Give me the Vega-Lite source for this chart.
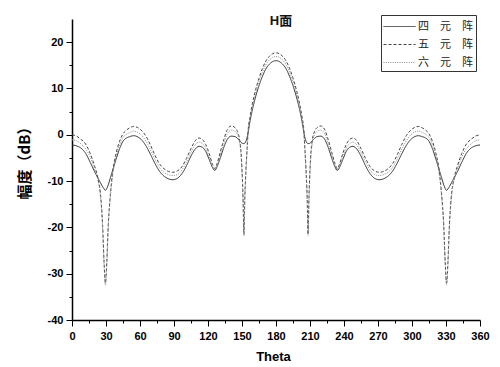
{
  "$schema": "https://vega.github.io/schema/vega-lite/v6.json",
  "autosize": {"type": "none"},
  "padding": {"left": 72, "top": 19, "right": 20, "bottom": 47},
  "width": 408,
  "height": 301,
  "background": "white",
  "title": {"text": "H面", "font": "Liberation Sans, Noto Sans CJK SC", "fontSize": 13, "fontWeight": "bold", "color": "#111", "anchor": "middle", "frame": "group", "baseline": "top", "offset": -13, "dx": 5},
  "data": {"values": [
    {"t": 0, "四元阵": -2.2, "五元阵": 0.0, "六元阵": -1.1},
    {"t": 4, "四元阵": -2.4, "五元阵": -0.3, "六元阵": -1.3},
    {"t": 8, "四元阵": -2.9, "五元阵": -1.0, "六元阵": -2.0},
    {"t": 12, "四元阵": -4.0, "五元阵": -2.0, "六元阵": -3.0},
    {"t": 16, "四元阵": -5.9, "五元阵": -4.0, "六元阵": -4.8},
    {"t": 20, "四元阵": -8.0, "五元阵": -6.8, "六元阵": -7.5},
    {"t": 23, "四元阵": -9.4, "五元阵": -9.5, "六元阵": -10},
    {"t": 25, "四元阵": -10.3, "五元阵": -12.5, "六元阵": -13},
    {"t": 27, "四元阵": -11.2, "五元阵": -19.5, "六元阵": -20},
    {"t": 28.3, "四元阵": -11.7, "五元阵": -27.5, "六元阵": -28},
    {"t": 29.5, "四元阵": -12.0, "五元阵": -32, "六元阵": -32.5},
    {"t": 30.7, "四元阵": -11.6, "五元阵": -27.5, "六元阵": -28},
    {"t": 32, "四元阵": -10.8, "五元阵": -19.5, "六元阵": -20},
    {"t": 34, "四元阵": -9.2, "五元阵": -12.5, "六元阵": -13},
    {"t": 36, "四元阵": -7.6, "五元阵": -7.8, "六元阵": -8.5},
    {"t": 39, "四元阵": -5.2, "五元阵": -3.9, "六元阵": -4.6},
    {"t": 42, "四元阵": -3.0, "五元阵": -1.4, "六元阵": -2.2},
    {"t": 45, "四元阵": -1.4, "五元阵": 0.2, "六元阵": -0.6},
    {"t": 48, "四元阵": -0.7, "五元阵": 1.0, "六元阵": 0.1},
    {"t": 51, "四元阵": -0.4, "五元阵": 1.5, "六元阵": 0.5},
    {"t": 54.5, "四元阵": -0.2, "五元阵": 1.8, "六元阵": 0.8},
    {"t": 57.5, "四元阵": -0.4, "五元阵": 1.6, "六元阵": 0.6},
    {"t": 61, "四元阵": -1.0, "五元阵": 1.0, "六元阵": 0.0},
    {"t": 65, "四元阵": -2.3, "五元阵": -0.2, "六元阵": -1.3},
    {"t": 69, "四元阵": -4.1, "五元阵": -2.1, "六元阵": -3.1},
    {"t": 73, "四元阵": -6.1, "五元阵": -4.3, "六元阵": -5.2},
    {"t": 77, "四元阵": -7.8, "五元阵": -6.2, "六元阵": -7.0},
    {"t": 81, "四元阵": -8.9, "五元阵": -7.3, "六元阵": -8.1},
    {"t": 85, "四元阵": -9.5, "五元阵": -7.9, "六元阵": -8.6},
    {"t": 89, "四元阵": -9.7, "五元阵": -8.1, "六元阵": -8.8},
    {"t": 93, "四元阵": -9.4, "五元阵": -7.8, "六元阵": -8.6},
    {"t": 97, "四元阵": -8.4, "五元阵": -6.9, "六元阵": -7.6},
    {"t": 101, "四元阵": -6.7, "五元阵": -5.1, "六元阵": -5.9},
    {"t": 105, "四元阵": -4.6, "五元阵": -3.0, "六元阵": -3.8},
    {"t": 109, "四元阵": -3.0, "五元阵": -1.2, "六元阵": -2.1},
    {"t": 112, "四元阵": -2.5, "五元阵": -0.7, "六元阵": -1.6},
    {"t": 115, "四元阵": -2.7, "五元阵": -1.0, "六元阵": -1.9},
    {"t": 118, "四元阵": -3.6, "五元阵": -2.1, "六元阵": -2.9},
    {"t": 121, "四元阵": -5.3, "五元阵": -4.0, "六元阵": -4.7},
    {"t": 124, "四元阵": -7.1, "五元阵": -6.4, "六元阵": -6.8},
    {"t": 126, "四元阵": -7.7, "五元阵": -7.3, "六元阵": -7.5},
    {"t": 128, "四元阵": -6.9, "五元阵": -6.2, "六元阵": -6.6},
    {"t": 131, "四元阵": -4.9, "五元阵": -3.6, "六元阵": -4.3},
    {"t": 134, "四元阵": -2.7, "五元阵": -1.0, "六元阵": -1.9},
    {"t": 137, "四元阵": -1.0, "五元阵": 1.1, "六元阵": 0.2},
    {"t": 140.5, "四元阵": -0.3, "五元阵": 1.9, "六元阵": 1.0},
    {"t": 144, "四元阵": -0.4, "五元阵": 1.5, "六元阵": 0.7},
    {"t": 146, "四元阵": -0.8, "五元阵": 0.7, "六元阵": 0.0},
    {"t": 148, "四元阵": -1.3, "五元阵": -1.2, "六元阵": -2},
    {"t": 149, "四元阵": -1.6, "五元阵": -3.3, "六元阵": -4},
    {"t": 150, "四元阵": -1.8, "五元阵": -7.5, "六元阵": -8},
    {"t": 150.9, "四元阵": -1.9, "五元阵": -13.5, "六元阵": -14},
    {"t": 151.7, "四元阵": -1.9, "五元阵": -21.5, "六元阵": -21.8},
    {"t": 152.5, "四元阵": -1.8, "五元阵": -13.5, "六元阵": -14},
    {"t": 153.5, "四元阵": -1.4, "五元阵": -7.5, "六元阵": -8},
    {"t": 154.5, "四元阵": -0.6, "五元阵": -3.0, "六元阵": -3.5},
    {"t": 155.5, "四元阵": 0.6, "五元阵": 1.2, "六元阵": 0.8},
    {"t": 157, "四元阵": 2.8, "五元阵": 3.8, "六元阵": 3.3},
    {"t": 159, "四元阵": 5.2, "五元阵": 6.5, "六元阵": 5.9},
    {"t": 162, "四元阵": 8.2, "五元阵": 9.7, "六元阵": 9.0},
    {"t": 165, "四元阵": 10.6, "五元阵": 12.2, "六元阵": 11.5},
    {"t": 168, "四元阵": 12.6, "五元阵": 14.3, "六元阵": 13.5},
    {"t": 171, "四元阵": 14.2, "五元阵": 15.9, "六元阵": 15.1},
    {"t": 174, "四元阵": 15.2, "五元阵": 16.9, "六元阵": 16.1},
    {"t": 177, "四元阵": 15.8, "五元阵": 17.5, "六元阵": 16.7},
    {"t": 180, "四元阵": 16.0, "五元阵": 17.7, "六元阵": 16.9},
    {"t": 183, "四元阵": 15.8, "五元阵": 17.5, "六元阵": 16.7},
    {"t": 186, "四元阵": 15.2, "五元阵": 16.9, "六元阵": 16.1},
    {"t": 189, "四元阵": 14.2, "五元阵": 15.9, "六元阵": 15.1},
    {"t": 192, "四元阵": 12.6, "五元阵": 14.3, "六元阵": 13.5},
    {"t": 195, "四元阵": 10.6, "五元阵": 12.2, "六元阵": 11.5},
    {"t": 198, "四元阵": 8.2, "五元阵": 9.7, "六元阵": 9.0},
    {"t": 201, "四元阵": 5.2, "五元阵": 6.5, "六元阵": 5.9},
    {"t": 203, "四元阵": 2.8, "五元阵": 3.8, "六元阵": 3.3},
    {"t": 204.5, "四元阵": 0.6, "五元阵": 1.2, "六元阵": 0.8},
    {"t": 205.5, "四元阵": -0.6, "五元阵": -3.0, "六元阵": -3.5},
    {"t": 206.5, "四元阵": -1.4, "五元阵": -7.5, "六元阵": -8},
    {"t": 207.5, "四元阵": -1.8, "五元阵": -13.5, "六元阵": -14},
    {"t": 208.3, "四元阵": -1.9, "五元阵": -21.5, "六元阵": -21.8},
    {"t": 209.1, "四元阵": -1.9, "五元阵": -13.5, "六元阵": -14},
    {"t": 210, "四元阵": -1.8, "五元阵": -7.5, "六元阵": -8},
    {"t": 211, "四元阵": -1.6, "五元阵": -3.3, "六元阵": -4},
    {"t": 212, "四元阵": -1.3, "五元阵": -1.2, "六元阵": -2},
    {"t": 214, "四元阵": -0.8, "五元阵": 0.7, "六元阵": 0.0},
    {"t": 216, "四元阵": -0.4, "五元阵": 1.5, "六元阵": 0.7},
    {"t": 219.5, "四元阵": -0.3, "五元阵": 1.9, "六元阵": 1.0},
    {"t": 223, "四元阵": -1.0, "五元阵": 1.1, "六元阵": 0.2},
    {"t": 226, "四元阵": -2.7, "五元阵": -1.0, "六元阵": -1.9},
    {"t": 229, "四元阵": -4.9, "五元阵": -3.6, "六元阵": -4.3},
    {"t": 232, "四元阵": -6.9, "五元阵": -6.2, "六元阵": -6.6},
    {"t": 234, "四元阵": -7.7, "五元阵": -7.3, "六元阵": -7.5},
    {"t": 236, "四元阵": -7.1, "五元阵": -6.4, "六元阵": -6.8},
    {"t": 239, "四元阵": -5.3, "五元阵": -4.0, "六元阵": -4.7},
    {"t": 242, "四元阵": -3.6, "五元阵": -2.1, "六元阵": -2.9},
    {"t": 245, "四元阵": -2.7, "五元阵": -1.0, "六元阵": -1.9},
    {"t": 248, "四元阵": -2.5, "五元阵": -0.7, "六元阵": -1.6},
    {"t": 251, "四元阵": -3.0, "五元阵": -1.2, "六元阵": -2.1},
    {"t": 255, "四元阵": -4.6, "五元阵": -3.0, "六元阵": -3.8},
    {"t": 259, "四元阵": -6.7, "五元阵": -5.1, "六元阵": -5.9},
    {"t": 263, "四元阵": -8.4, "五元阵": -6.9, "六元阵": -7.6},
    {"t": 267, "四元阵": -9.4, "五元阵": -7.8, "六元阵": -8.6},
    {"t": 271, "四元阵": -9.7, "五元阵": -8.1, "六元阵": -8.8},
    {"t": 275, "四元阵": -9.5, "五元阵": -7.9, "六元阵": -8.6},
    {"t": 279, "四元阵": -8.9, "五元阵": -7.3, "六元阵": -8.1},
    {"t": 283, "四元阵": -7.8, "五元阵": -6.2, "六元阵": -7.0},
    {"t": 287, "四元阵": -6.1, "五元阵": -4.3, "六元阵": -5.2},
    {"t": 291, "四元阵": -4.1, "五元阵": -2.1, "六元阵": -3.1},
    {"t": 295, "四元阵": -2.3, "五元阵": -0.2, "六元阵": -1.3},
    {"t": 299, "四元阵": -1.0, "五元阵": 1.0, "六元阵": 0.0},
    {"t": 302.5, "四元阵": -0.4, "五元阵": 1.6, "六元阵": 0.6},
    {"t": 305.5, "四元阵": -0.2, "五元阵": 1.8, "六元阵": 0.8},
    {"t": 309, "四元阵": -0.4, "五元阵": 1.5, "六元阵": 0.5},
    {"t": 312, "四元阵": -0.7, "五元阵": 1.0, "六元阵": 0.1},
    {"t": 315, "四元阵": -1.4, "五元阵": 0.2, "六元阵": -0.6},
    {"t": 318, "四元阵": -3.0, "五元阵": -1.4, "六元阵": -2.2},
    {"t": 321, "四元阵": -5.2, "五元阵": -3.9, "六元阵": -4.6},
    {"t": 324, "四元阵": -7.6, "五元阵": -7.8, "六元阵": -8.5},
    {"t": 326, "四元阵": -9.2, "五元阵": -12.5, "六元阵": -13},
    {"t": 328, "四元阵": -10.8, "五元阵": -19.5, "六元阵": -20},
    {"t": 329.3, "四元阵": -11.6, "五元阵": -27.5, "六元阵": -28},
    {"t": 330.5, "四元阵": -12.0, "五元阵": -32, "六元阵": -32.5},
    {"t": 331.7, "四元阵": -11.7, "五元阵": -27.5, "六元阵": -28},
    {"t": 333, "四元阵": -11.2, "五元阵": -19.5, "六元阵": -20},
    {"t": 335, "四元阵": -10.3, "五元阵": -12.5, "六元阵": -13},
    {"t": 337, "四元阵": -9.4, "五元阵": -9.5, "六元阵": -10},
    {"t": 340, "四元阵": -8.0, "五元阵": -6.8, "六元阵": -7.5},
    {"t": 344, "四元阵": -5.9, "五元阵": -4.0, "六元阵": -4.8},
    {"t": 348, "四元阵": -4.0, "五元阵": -2.0, "六元阵": -3.0},
    {"t": 352, "四元阵": -2.9, "五元阵": -1.0, "六元阵": -2.0},
    {"t": 356, "四元阵": -2.4, "五元阵": -0.3, "六元阵": -1.3},
    {"t": 360, "四元阵": -2.2, "五元阵": 0.0, "六元阵": -1.1}
  ]},
  "transform": [{"fold": ["四元阵", "五元阵", "六元阵"], "as": ["s", "v"]}],
  "mark": {"type": "line", "strokeWidth": 1, "interpolate": "monotone"},
  "encoding": {
    "x": {"field": "t", "type": "quantitative",
      "scale": {"domain": [0, 360], "nice": false, "zero": false},
      "axis": {"title": "Theta", "values": [0,15,30,45,60,75,90,105,120,135,150,165,180,195,210,225,240,255,270,285,300,315,330,345,360],
        "labelExpr": "datum.value % 30 === 0 ? '' + datum.value : ''",
        "tickSize": {"condition": {"test": "datum.value % 30 === 0", "value": 6}, "value": 3},
        "grid": false, "domainColor": "#000", "domainWidth": 1.5, "tickColor": "#000", "tickWidth": 1,
        "labelFont": "Liberation Sans", "labelFontSize": 11, "labelFontWeight": "bold", "labelColor": "#000", "labelPadding": 4, "labelFlush": false,
        "titleFont": "Liberation Sans", "titleFontSize": 13, "titleFontWeight": "bold", "titleColor": "#000", "titlePadding": 9, "titleX": 201}},
    "y": {"field": "v", "type": "quantitative",
      "scale": {"domain": [-40, 25], "nice": false, "zero": false},
      "axis": {"title": "幅度（dB）", "values": [-40,-35,-30,-25,-20,-15,-10,-5,0,5,10,15,20],
        "labelExpr": "datum.value % 10 === 0 ? '' + datum.value : ''",
        "tickSize": {"condition": {"test": "datum.value % 10 === 0", "value": 6}, "value": 3},
        "grid": false, "domainColor": "#000", "domainWidth": 1.5, "tickColor": "#000", "tickWidth": 1,
        "labelFont": "Liberation Sans", "labelFontSize": 11, "labelFontWeight": "bold", "labelColor": "#000", "labelPadding": 3,
        "titleFont": "Noto Sans CJK SC", "titleFontSize": 15, "titleFontWeight": "bold", "titleColor": "#000", "titlePadding": 15, "titleY": 140}},
    "color": {"field": "s", "type": "nominal", "sort": ["四元阵", "五元阵", "六元阵"],
      "scale": {"domain": ["四元阵", "五元阵", "六元阵"], "range": ["#333333", "#444444", "#8a8a8a"]},
      "legend": {"title": null, "orient": "none", "legendX": 309, "legendY": -4,
        "strokeColor": "#333", "fillColor": "white", "padding": 3,
        "symbolType": "M-2,0H2", "symbolSize": 256, "symbolStrokeWidth": 1, "symbolOffset": 7,
        "labelFont": "Noto Sans CJK SC", "labelFontSize": 11, "labelColor": "#222", "labelOffset": 10, "rowPadding": 4,
        "labelExpr": "substring(datum.label,0,1) + '　' + substring(datum.label,1,2) + '　' + substring(datum.label,2,3)"}},
    "strokeDash": {"field": "s", "type": "nominal", "sort": ["四元阵", "五元阵", "六元阵"],
      "scale": {"domain": ["四元阵", "五元阵", "六元阵"], "range": [[1, 0], [3, 2], [1, 1.3]]},
      "legend": {"title": null, "orient": "none", "legendX": 309, "legendY": -4,
        "strokeColor": "#333", "fillColor": "white", "padding": 3,
        "symbolType": "M-2,0H2", "symbolSize": 256, "symbolStrokeWidth": 1, "symbolOffset": 7,
        "labelFont": "Noto Sans CJK SC", "labelFontSize": 11, "labelColor": "#222", "labelOffset": 10, "rowPadding": 4,
        "labelExpr": "substring(datum.label,0,1) + '　' + substring(datum.label,1,2) + '　' + substring(datum.label,2,3)"}}
  },
  "config": {"view": {"stroke": null}}
}
